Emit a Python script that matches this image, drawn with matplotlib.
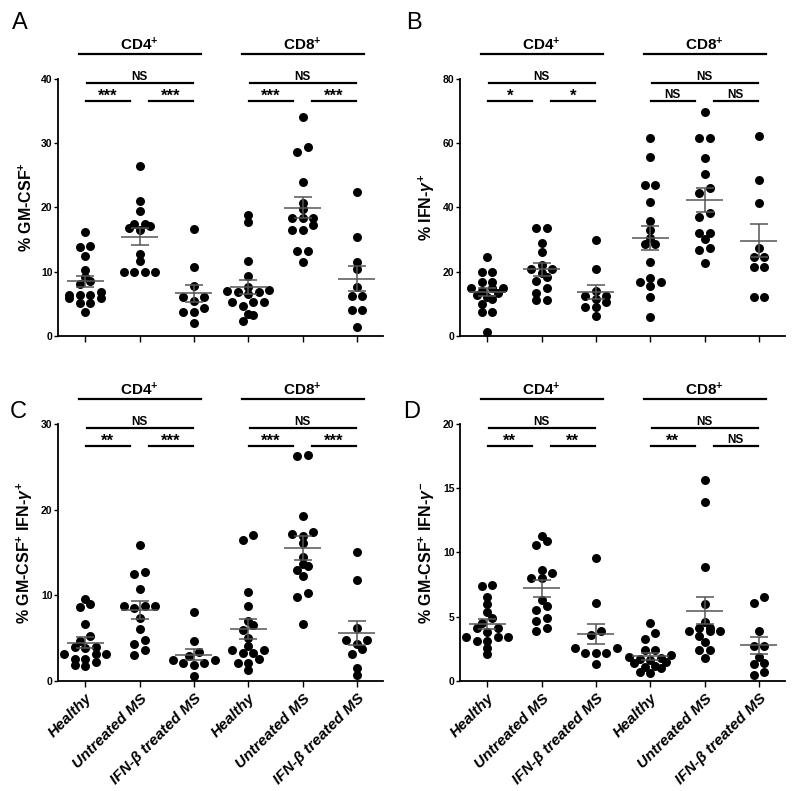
import numpy as np
import matplotlib
matplotlib.use('Agg')
import matplotlib.pyplot as plt
from matplotlib.transforms import blended_transform_factory

plt.rcParams['font.family'] = ['Liberation Sans', 'DejaVu Sans']
plt.rcParams['mathtext.fontset'] = 'custom'
plt.rcParams['mathtext.rm'] = 'Liberation Sans:bold'
plt.rcParams['mathtext.it'] = 'Liberation Sans:bold:italic'
plt.rcParams['mathtext.bf'] = 'Liberation Sans:bold'

group_labels = ['Healthy', 'Untreated MS', 'IFN-β treated MS'] * 2

# A: % GM-CSF+
gm_cd4_healthy = [16.2, 14.0, 13.9, 12.5, 10.2, 9.2, 8.6, 8.1, 6.9, 6.4, 6.4, 6.4, 5.9, 5.9, 5.1, 5.1, 3.8]
gm_cd4_untreated = [26.4, 21.0, 19.4, 17.4, 17.4, 17.1, 16.8, 16.5, 12.8, 11.6, 10.0, 10.0, 10.0, 10.0]
gm_cd4_ifnb = [16.6, 10.7, 7.8, 6.1, 6.1, 5.5, 4.3, 3.8, 3.8, 2.0]
gm_cd8_healthy = [18.8, 17.8, 11.6, 9.4, 7.6, 7.1, 7.0, 6.9, 6.8, 6.6, 5.3, 5.3, 5.3, 4.6, 3.5, 3.2, 2.4]
gm_cd8_untreated = [34.1, 29.4, 28.6, 23.9, 20.7, 19.7, 18.4, 18.4, 18.4, 17.3, 16.5, 16.5, 13.2, 13.2, 11.5]
gm_cd8_ifnb = [22.4, 15.4, 11.5, 10.4, 7.7, 6.3, 6.3, 4.0, 4.0, 1.4]

# B: % IFN-gamma+
ifng_cd4_healthy = [24.7, 19.8, 19.8, 16.7, 16.7, 14.8, 14.8, 14.8, 14.0, 13.5, 12.8, 12.0, 11.4, 9.9, 7.6, 7.6, 1.3]
ifng_cd4_untreated = [33.5, 33.5, 28.8, 26.0, 22.1, 20.7, 20.7, 19.5, 18.5, 17.0, 14.8, 13.3, 11.2, 11.2]
ifng_cd4_ifnb = [29.9, 20.8, 14.0, 12.4, 12.4, 11.5, 10.5, 9.1, 9.1, 6.3]
ifng_cd8_healthy = [61.7, 55.8, 47.0, 47.0, 41.8, 35.9, 33.0, 30.6, 28.5, 28.5, 23.1, 17.9, 16.9, 16.9, 15.6, 12.2, 6.0]
ifng_cd8_untreated = [69.8, 61.5, 61.5, 55.5, 50.4, 46.2, 44.6, 38.4, 37.1, 32.2, 32.2, 30.1, 27.5, 26.7, 22.8]
ifng_cd8_ifnb = [62.2, 48.5, 41.3, 27.5, 24.5, 24.5, 21.6, 21.6, 12.2, 12.2]

# C: % GM-CSF+ IFN-gamma+
dp_cd4_healthy = [9.6, 9.0, 8.6, 6.6, 5.2, 4.7, 4.0, 4.0, 3.8, 3.2, 3.2, 3.2, 2.6, 2.6, 2.2, 1.9, 1.7]
dp_cd4_untreated = [15.9, 12.7, 12.5, 10.7, 8.8, 8.8, 8.8, 8.5, 7.4, 6.1, 4.8, 4.3, 3.6, 3.0]
dp_cd4_ifnb = [8.1, 4.7, 3.4, 2.9, 2.5, 2.4, 2.1, 2.1, 1.9, 0.6]
dp_cd8_healthy = [17.0, 16.5, 10.4, 8.8, 7.0, 6.5, 6.0, 5.0, 4.1, 3.6, 3.6, 3.3, 3.3, 2.6, 2.1, 2.1, 1.3]
dp_cd8_untreated = [26.4, 26.2, 19.2, 17.4, 17.2, 16.9, 16.1, 14.5, 13.7, 13.4, 13.0, 12.2, 10.3, 9.8, 6.7]
dp_cd8_ifnb = [15.1, 11.8, 6.2, 4.8, 4.8, 4.3, 3.7, 3.2, 1.5, 0.7]

# D: % GM-CSF+ IFN-gamma-
gmo_cd4_healthy = [7.5, 7.4, 6.5, 6.0, 5.4, 4.9, 4.5, 4.1, 4.1, 3.8, 3.4, 3.4, 3.4, 3.1, 3.1, 2.6, 2.1]
gmo_cd4_untreated = [11.3, 10.9, 10.6, 8.6, 8.4, 8.0, 8.0, 6.3, 5.8, 5.5, 4.9, 4.7, 4.1, 3.9]
gmo_cd4_ifnb = [9.6, 6.1, 3.9, 3.6, 2.6, 2.6, 2.2, 2.2, 2.2, 1.3]
gmo_cd8_healthy = [4.5, 3.7, 3.3, 2.4, 2.4, 2.0, 1.9, 1.8, 1.7, 1.6, 1.5, 1.4, 1.2, 1.1, 1.0, 0.7, 0.6]
gmo_cd8_untreated = [15.6, 13.9, 8.9, 6.0, 4.6, 4.1, 4.1, 3.9, 3.9, 3.9, 3.5, 3.0, 2.4, 2.4, 1.8]
gmo_cd8_ifnb = [6.5, 6.1, 3.9, 2.7, 2.7, 1.9, 1.4, 1.3, 0.7, 0.5]

# significance labels: (CD4 overall, CD4 pair1, CD4 pair2, CD8 overall, CD8 pair1, CD8 pair2)
sig_a = ['NS', '***', '***', 'NS', '***', '***']
sig_b = ['NS', '*', '*', 'NS', 'NS', 'NS']
sig_c = ['NS', '**', '***', 'NS', '***', '***']
sig_d = ['NS', '**', '**', 'NS', '**', 'NS']

W, H = 800, 791
fig = plt.figure(figsize=(W / 100, H / 100), dpi=100)

DOT = 9.0     # marker diameter, px
ROWH = 5.5    # points closer than this (vertically) share a row
SPACING = 10.5


def swarm(vals, ax):
    # GraphPad-like scatter: bin into rows, centre each row
    yp = ax.transData.transform(np.column_stack([np.zeros(len(vals)), vals]))[:, 1]
    order = np.argsort(yp, kind='stable')
    rows, cur = [], [order[0]]
    for i in order[1:]:
        if yp[i] - yp[cur[0]] < ROWH:
            cur.append(i)
        else:
            rows.append(cur)
            cur = [i]
    rows.append(cur)
    xs = np.zeros(len(vals))
    for r in rows:
        n = len(r)
        slots = sorted(range(n), key=lambda k: abs(k - (n - 1) / 2))
        for k, i in zip(slots, r):
            xs[i] = (k - (n - 1) / 2) * SPACING
    return xs


def panel(rect, groups, ymax, yticks, ylabel, sig, letter, letter_xy, show_labels):
    ax = fig.add_axes(rect)
    ax.set_xlim(-0.5, 5.48)
    ax.set_ylim(0, ymax)
    ax.spines[['top', 'right']].set_visible(False)
    for s in ['left', 'bottom']:
        ax.spines[s].set_linewidth(1.3)
    ax.set_yticks(yticks)
    ax.tick_params(axis='y', length=3, width=1, pad=1, labelsize=7.5)
    for t in ax.get_yticklabels():
        t.set_fontweight('bold')
    ax.set_xticks(range(6))
    ax.tick_params(axis='x', length=4, width=1)
    if show_labels:
        ax.set_xticklabels(group_labels, rotation=45, ha='right', va='top',
                           rotation_mode='anchor', fontsize=11,
                           fontweight='bold', fontstyle='italic')
    else:
        ax.set_xticklabels([])
    ax.set_ylabel(ylabel, fontsize=11.5, fontweight='bold', labelpad=4)

    px_per_unit = ax.transData.transform((1, 0))[0] - ax.transData.transform((0, 0))[0]
    for i, vals in enumerate(groups):
        vals = np.asarray(vals, dtype=float)
        off = swarm(vals, ax) / px_per_unit
        ax.scatter(i + off, vals, s=(DOT * 0.72) ** 2, color='black',
                   linewidths=0, clip_on=False, zorder=2)
        m = vals.mean()
        se = vals.std(ddof=1) / np.sqrt(len(vals))
        ax.hlines(m, i - 0.34, i + 0.34, color='#555555', lw=1.1, zorder=3)
        ax.errorbar(i, m, yerr=se, color='#555555', lw=1.1, capsize=6.5,
                    capthick=1.1, zorder=3)

    # brackets above the plot
    hpx = rect[3] * H
    tr = blended_transform_factory(ax.transData, ax.transAxes)

    def fy(px):
        return 1 + px / hpx

    for k, (g0, name) in enumerate([(0, 'CD4$^{+}$'), (3, 'CD8$^{+}$')]):
        ax.plot([g0 - 0.11, g0 + 2.13], [fy(25), fy(25)], color='black', lw=1.6,
                transform=tr, clip_on=False)
        ax.text(g0 + 1.0, fy(29), name, transform=tr, ha='center', va='baseline',
                fontsize=11, fontweight='bold')
        ax.plot([g0 + 0.03, g0 + 1.98], [fy(-4.5), fy(-4.5)], color='black', lw=1.6,
                transform=tr, clip_on=False)
        ax.text(g0 + 1.0, fy(-1), sig[3 * k], transform=tr, ha='center',
                va='baseline', fontsize=8.5, fontweight='bold')
        for a, b, lab in [(g0 + 0.01, g0 + 0.82, sig[3 * k + 1]),
                          (g0 + 1.17, g0 + 1.98, sig[3 * k + 2])]:
            ax.plot([a, b], [fy(-22.5), fy(-22.5)], color='black', lw=1.6,
                    transform=tr, clip_on=False)
            if lab == 'NS':
                ax.text((a + b) / 2, fy(-19), lab, transform=tr, ha='center',
                        va='baseline', fontsize=8.5, fontweight='bold')
            else:
                ax.text((a + b) / 2, fy(-21.5), lab, transform=tr, ha='center',
                        va='baseline', fontsize=12, fontweight='bold')

    fig.text(letter_xy[0] / W, 1 - letter_xy[1] / H, letter, fontsize=17,
             ha='center', va='center')
    return ax


hA = 0.325
panel([58 / W, 1 - 336 / H, 325 / W, hA],
      [gm_cd4_healthy, gm_cd4_untreated, gm_cd4_ifnb, gm_cd8_healthy, gm_cd8_untreated, gm_cd8_ifnb],
      40, [0, 10, 20, 30, 40], '% GM-CSF$^{+}$', sig_a, 'A', (20, 23), False)
panel([460 / W, 1 - 336 / H, 325 / W, hA],
      [ifng_cd4_healthy, ifng_cd4_untreated, ifng_cd4_ifnb, ifng_cd8_healthy, ifng_cd8_untreated, ifng_cd8_ifnb],
      80, [0, 20, 40, 60, 80], '% IFN-$\\gamma^{+}$', sig_b, 'B', (414, 23), False)
panel([58 / W, 1 - 681 / H, 325 / W, hA],
      [dp_cd4_healthy, dp_cd4_untreated, dp_cd4_ifnb, dp_cd8_healthy, dp_cd8_untreated, dp_cd8_ifnb],
      30, [0, 10, 20, 30], '% GM-CSF$^{+}$ IFN-$\\gamma^{+}$', sig_c, 'C', (18, 412), True)
panel([460 / W, 1 - 681 / H, 325 / W, hA],
      [gmo_cd4_healthy, gmo_cd4_untreated, gmo_cd4_ifnb, gmo_cd8_healthy, gmo_cd8_untreated, gmo_cd8_ifnb],
      20, [0, 5, 10, 15, 20], '% GM-CSF$^{+}$ IFN-$\\gamma^{-}$', sig_d, 'D', (412, 412), True)

fig.savefig('out.png', dpi=100)
